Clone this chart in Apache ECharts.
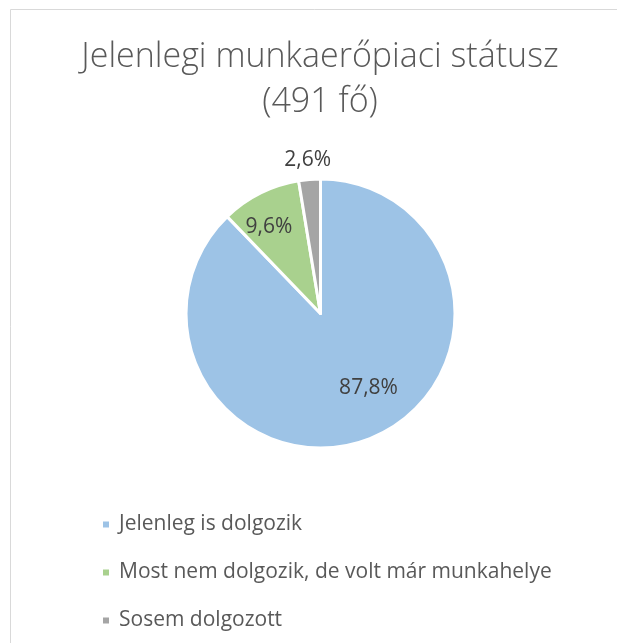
<!DOCTYPE html>
<html>
<head>
<meta charset="utf-8">
<script src="https://cdn.jsdelivr.net/npm/echarts@6/dist/echarts.min.js"></script>
<style>html,body{margin:0;padding:0;background:#fff}#c{width:617px;height:643px}</style>
</head>
<body>
<div id="c"></div>
<script>
const categories = ['Jelenleg is dolgozik', 'Most nem dolgozik, de volt már munkahelye', 'Sosem dolgozott'];
const values = [87.8, 9.6, 2.6];
const labelTexts = ['87,8%', '9,6%', '2,6%'];
const colors = ['#9DC3E6', '#A9D18E', '#A5A5A5'];
const titleText = 'Jelenlegi munkaerőpiaci státusz\n(491 fő)';

const FONT = 'Open Sans';
const center = [320.5, 313.5];
const R = 134.5;
// label radius (distance from centre) for each slice
const labelDist = [88, 103, 154];

const chart = echarts.init(document.getElementById('c'), null, {renderer: 'canvas'});

const mainData = categories.map((c, i) => ({
  name: c, value: values[i], itemStyle: {color: colors[i]}
}));

const labelSeries = labelDist.map((d, k) => ({
  type: 'pie',
  silent: true,
  center: center,
  radius: [0, d * 2],
  startAngle: 90,
  clockwise: true,
  legendHoverLink: false,
  emphasis: {disabled: true},
  labelLine: {show: false},
  itemStyle: {color: 'rgba(0,0,0,0)', borderWidth: 0},
  z: 5,
  data: categories.map((c, i) => ({
    name: c + '_lbl' + k,
    value: values[i],
    label: {
      show: i === k,
      position: 'inside',
      formatter: labelTexts[i],
      fontFamily: FONT,
      fontSize: 21,
      color: '#404040',
      offset: i === 0 ? [14, -10] : (i === 1 ? [-4, 8] : [0, 3])
    }
  }))
}));

chart.setOption({
  animation: false,
  color: colors,
  graphic: [{
    type: 'rect',
    shape: {x: 10.5, y: 9.5, width: 800, height: 800},
    style: {fill: 'none', stroke: '#d9d9d9', lineWidth: 1},
    silent: true,
    z: -1
  }],
  title: {
    text: titleText,
    left: 320,
    textAlign: 'center',
    top: 35,
    padding: 0,
    textStyle: {fontFamily: FONT, fontSize: 34, fontWeight: 300, color: '#595959', lineHeight: 45}
  },
  legend: {
    orient: 'vertical',
    left: 101,
    top: 514,
    padding: 0,
    itemWidth: 8,
    itemHeight: 8,
    itemGap: 27,
    icon: 'rect',
    data: categories,
    textStyle: {fontFamily: FONT, fontSize: 21, color: '#595959', padding: [0, 0, 0, 4]}
  },
  series: [{
    type: 'pie',
    center: center,
    radius: [0, R],
    startAngle: 90,
    clockwise: true,
    label: {show: false},
    labelLine: {show: false},
    itemStyle: {borderColor: '#ffffff', borderWidth: 3},
    emphasis: {scale: false},
    data: mainData
  }].concat(labelSeries)
});
</script>
</body>
</html>
